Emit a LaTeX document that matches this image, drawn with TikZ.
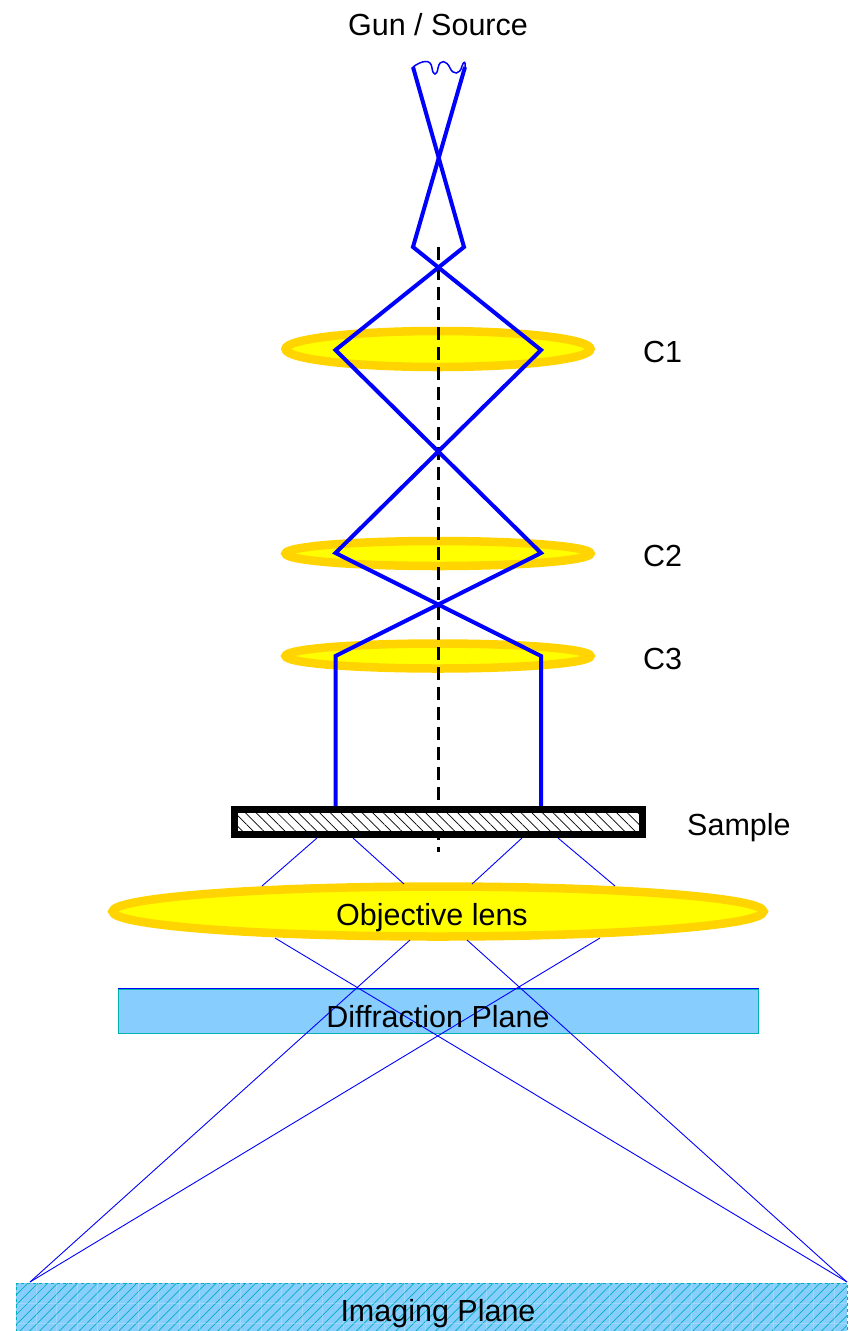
\documentclass[tikz,border=0pt]{standalone}
\usepackage{fontspec}
\setmainfont{Liberation Sans}
\usetikzlibrary{shapes.geometric,patterns.meta}
\definecolor{LensRim}{RGB}{255,212,0}
\definecolor{LensCore}{RGB}{255,255,0}
\definecolor{PlaneBlue}{RGB}{135,206,255}
\definecolor{PlaneEdge}{RGB}{0,178,178}
\tikzset{
  lens/.style={ellipse,draw=LensRim,fill=LensCore,line width=8.5pt,inner sep=0pt},
  rayfat/.style={draw=blue,line width=4pt,line join=miter},
  raythin/.style={draw=blue,line width=.9pt},
  axisline/.style={draw=black,line width=3pt,dash pattern=on 13pt off 7pt},
  tag/.style={font=\fontsize{30.5}{34}\selectfont,inner sep=0pt},
  planebox/.style={rectangle,draw=PlaneEdge,fill=PlaneBlue,line width=1pt,inner sep=0pt},
}
\begin{document}
\begin{tikzpicture}[x=1pt,y=-1pt]
    \useasboundingbox (0,0) rectangle (857,1331);
    % lenses
    \node[lens,minimum width=305pt,minimum height=36pt] (c1) at (438,349) {};
    \node[lens,minimum width=305pt,minimum height=25pt] (c2) at (438,553.5) {};
    \node[lens,minimum width=305pt,minimum height=25pt] (c3) at (438,656) {};
    \node[lens,minimum width=651pt,minimum height=50pt] (obj) at (438,911.5) {};
    \node[tag] (objtext) at (432,918) {Objective lens};
    % planes
    \node[planebox,minimum width=640pt,minimum height=44pt] (diff) at (438,1011) {};
    \draw[blue,line width=1pt] (diff.north west) -- (diff.north east);
    \node[planebox,dashed,minimum width=831pt,minimum height=50pt,
          postaction={solid,draw=none,pattern={Lines[angle=45,distance=7pt,line width=.7pt]},pattern color=PlaneEdge}]
          (img) at (431.5,1308) {};
    \draw[shift={(img.north west)},white,opacity=.2,line width=.7pt,step=20.47pt] (0,0) grid (831,48);
    % end points of the rays
    \coordinate (ga) at (413,67);
    \coordinate (gb) at (465,67);
    \coordinate (gc) at (413,247);
    \coordinate (gd) at (464,247);
    \coordinate (la) at (335.5,350);
    \coordinate (lb) at (541,350);
    \coordinate (ma) at (335.5,553);
    \coordinate (mb) at (541,553);
    \coordinate (na) at (335.5,656);
    \coordinate (nb) at (541,656);
    \coordinate (sa) at (335.5,806);
    \coordinate (sb) at (541,806);
    \coordinate (axtop) at (438,247);
    \coordinate (axbot) at (438,852);
    % axis and beam
    \draw[axisline] (axtop) -- (axbot);
    \draw[rayfat] (ga) -- (gd) -- (la) -- (mb) -- (na) -- (sa);
    \draw[rayfat] (gb) -- (gc) -- (lb) -- (ma) -- (nb) -- (sb);
    % filament
    \draw[blue,line width=1.5pt,line cap=round] (ga) .. controls (421,61) and (431,58) .. (432,68)
      .. controls (433,76) and (437,76) .. (438,68) .. controls (440,58) and (447,61) .. (450,68)
      .. controls (453,75) and (460,75) .. (462,66) .. controls (464,60) and (466,62) .. (gb);
    % sample
    \node[rectangle,draw=black,line width=6.5pt,fill=white,minimum width=408pt,minimum height=25pt,inner sep=0pt,
          postaction={draw=none,pattern={Lines[angle=-45,distance=7.5pt,line width=.7pt]},pattern color=black}]
          (sample) at (438.5,822) {};
    % thin rays
    \coordinate (ta) at (317,838);
    \coordinate (tb) at (353,838);
    \coordinate (tc) at (522,838);
    \coordinate (td) at (558,838);
    \coordinate (ua) at (262,886);
    \coordinate (ub) at (404,884);
    \coordinate (uc) at (472,884);
    \coordinate (ud) at (615,886);
    \coordinate (va) at (275,938);
    \coordinate (vb) at (410,940);
    \coordinate (vc) at (467,940);
    \coordinate (vd) at (600,938);
    \coordinate (wa) at (30,1282);
    \coordinate (wb) at (847,1282);
    \draw[raythin] (ta) -- (ua);
    \draw[raythin] (tb) -- (ub);
    \draw[raythin] (tc) -- (uc);
    \draw[raythin] (td) -- (ud);
    \draw[raythin] (va) -- (wb);
    \draw[raythin] (vc) -- (wb);
    \draw[raythin] (vb) -- (wa);
    \draw[raythin] (vd) -- (wa);
    % labels
    \node[tag] (gun) at (438,25) {Gun / Source};
    \node[tag,anchor=west] (c1text) at (643,352) {C1};
    \node[tag,anchor=west] (c2text) at (643,556) {C2};
    \node[tag,anchor=west] (c3text) at (643,659) {C3};
    \node[tag,anchor=west] (sampletext) at (687,828) {Sample};
    \node[tag] (difftext) at (438,1017) {Diffraction Plane};
    \node[tag] (imgtext) at (438,1314) {Imaging Plane};
\end{tikzpicture}
\end{document}
